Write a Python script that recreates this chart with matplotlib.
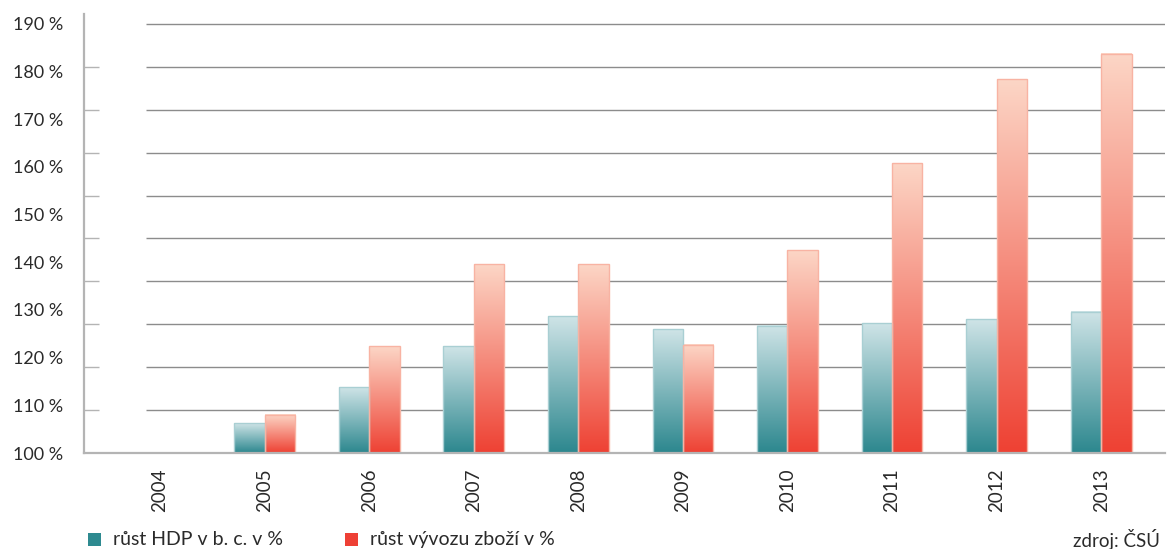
import numpy as np
import matplotlib
matplotlib.use("Agg")
import matplotlib.pyplot as plt
from matplotlib.colors import LinearSegmentedColormap
from matplotlib.patches import Rectangle

plt.rcParams["font.family"] = ["Lato", "DejaVu Sans"]

years = ["2004", "2005", "2006", "2007", "2008", "2009", "2010", "2011", "2012", "2013"]
gdp = [100.0, 106.9, 115.3, 124.9, 131.9, 128.8, 129.6, 130.2, 131.2, 132.9]
exports = [100.0, 108.9, 124.9, 144.0, 144.0, 125.2, 147.3, 167.5, 187.1, 193.0]
y_labels = ["100 %", "110 %", "120 %", "130 %", "140 %", "150 %", "160 %", "170 %", "180 %", "190 %"]
legend_labels = ["růst HDP v b. c. v %", "růst vývozu zboží v %"]
source = "zdroj: ČSÚ"

W, H = 1168, 549
fig = plt.figure(figsize=(W / 100, H / 100), dpi=100)
ax = fig.add_axes([84 / W, (H - 453) / H, (1165 - 84) / W, (453 - 14) / H])

teal_cmap = LinearSegmentedColormap.from_list("teal", ["#2c878e", "#cfe4e7"])
red_cmap = LinearSegmentedColormap.from_list("red", ["#ee4133", "#fcd6c6"])
grad = np.linspace(0, 1, 256).reshape(-1, 1)

bw = 0.29
base = 100
for i in range(len(years)):
    for vals, cmap, edge, off in [(gdp, teal_cmap, "#a9cfd3", -bw), (exports, red_cmap, "#f8b3a3", 0)]:
        top = vals[i]
        if top <= base:
            continue
        x0 = i + off
        ax.imshow(grad, cmap=cmap, origin="lower", aspect="auto",
                  extent=[x0, x0 + bw, base, top], zorder=3, interpolation="bilinear")
        ax.add_patch(Rectangle((x0, base), bw, top - base, fill=False,
                               edgecolor=edge, linewidth=1, zorder=4))

# gridlines (start a bit right of the axis, as in the original)
ax.hlines(np.arange(110, 201, 10), -0.134, 9.61, color="#8c8c8c", linewidth=1, zorder=1)

ax.set_xlim(-0.727, 9.61)
ax.set_ylim(100, 202.3)

# labels are spaced evenly over the axis height, tick marks sit on the gridlines
ax.set_yticks(np.linspace(100, 200, 10))
ax.set_yticklabels(y_labels, fontsize=13, color="#2a2a2a")
ax.tick_params(axis="y", which="major", length=0, pad=15)
ax.set_yticks(np.arange(100, 201, 10), minor=True)
ax.tick_params(axis="y", which="minor", direction="in", length=11, width=1, color="#b4b4b4")

ax.set_xticks(range(len(years)))
ax.set_xticklabels(years, rotation=90, fontsize=13.5, color="#2a2a2a")
ax.tick_params(axis="x", length=0, pad=11)

for s in ["top", "right"]:
    ax.spines[s].set_visible(False)
for s in ["left", "bottom"]:
    ax.spines[s].set_color("#b4b4b4")
    ax.spines[s].set_linewidth(1.6)
    ax.spines[s].set_zorder(5)

# legend
for x0, col, lab in [(88, "#2e8a90", legend_labels[0]), (345, "#ee4035", legend_labels[1])]:
    fig.add_artist(Rectangle((x0 / W, (H - 546) / H), 13 / W, 13 / H,
                             transform=fig.transFigure, facecolor=col, edgecolor="none"))
    fig.text((x0 + 25) / W, (H - 539.5) / H, lab, fontsize=14, color="#2a2a2a", va="center")
fig.text(1160 / W, (H - 539.5) / H, source, fontsize=13.5, color="#2a2a2a", va="center", ha="right")

fig.savefig("out.png", dpi=100)
